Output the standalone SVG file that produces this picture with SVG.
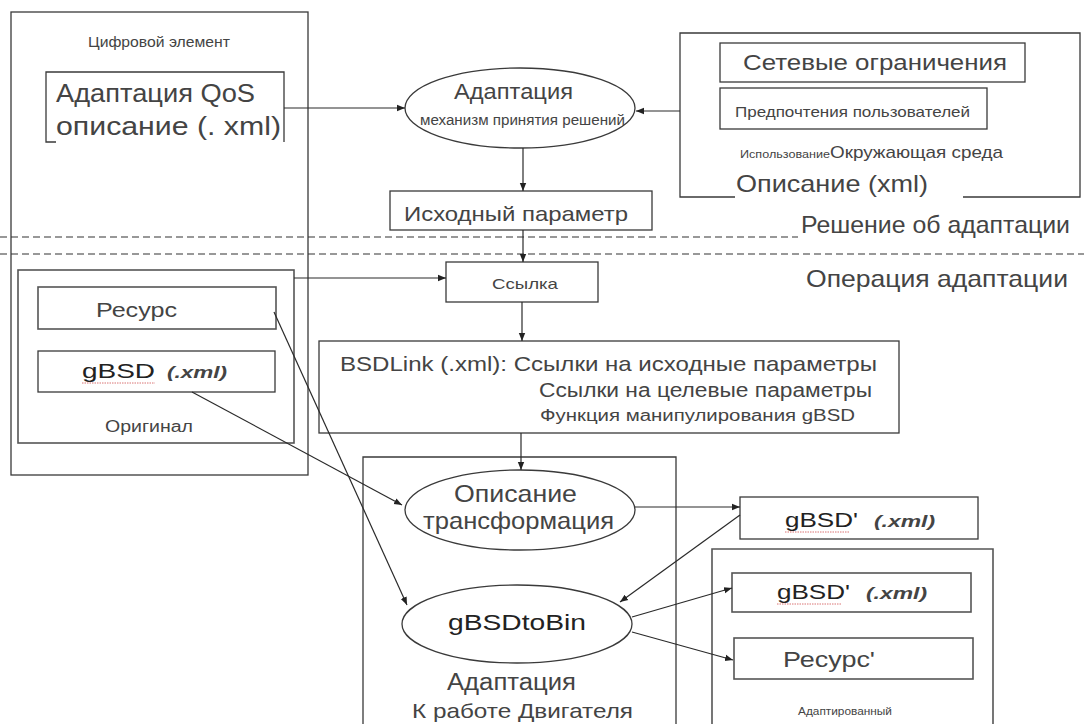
<svg xmlns="http://www.w3.org/2000/svg" width="1084" height="724" viewBox="0 0 1084 724">
<defs>
<style>
.box{fill:none;stroke:#3a3a3a;stroke-width:1.3}
.lbox{fill:none;stroke:#555;stroke-width:1.6}
.ln{fill:none;stroke:#2a2a2a;stroke-width:1.2}
.dash{fill:none;stroke:#333;stroke-width:1.2;stroke-dasharray:7,4}
text{font-family:"Liberation Sans",Arial,sans-serif;fill:#444}
.dk{fill:#222}
.sq{fill:none;stroke:#d05050;stroke-width:0.8;stroke-dasharray:1.5,1}
</style>
<marker id="ar" viewBox="0 0 10 10" refX="10" refY="5" markerWidth="8" markerHeight="8" orient="auto" markerUnits="userSpaceOnUse">
<path d="M0,1 L10,5 L0,9 z" fill="#222"/>
</marker>
</defs>
<rect width="1084" height="724" fill="#fff"/>

<g id="digital-item">
<rect class="box" x="11" y="12" width="297" height="463"/>
<text x="88" y="47" font-size="15" textLength="142" lengthAdjust="spacingAndGlyphs">Цифровой элемент</text>
</g>

<g id="qos">
<path class="box" d="M56,142 H46 V72 H284 V142"/>
<text x="56" y="102" font-size="25" textLength="199" lengthAdjust="spacingAndGlyphs">Адаптация QoS</text>
<text x="56" y="135" font-size="25" textLength="225" lengthAdjust="spacingAndGlyphs">описание (. xml)</text>
</g>

<g id="decision">
<ellipse class="box" cx="520" cy="108" rx="115" ry="40"/>
<text x="454" y="99" font-size="22" textLength="119" lengthAdjust="spacingAndGlyphs">Адаптация</text>
<text x="420" y="125" font-size="14" textLength="205" lengthAdjust="spacingAndGlyphs">механизм принятия решений</text>
</g>

<g id="environment">
<path class="box" d="M735,197 H680 V33 H1080 V197 H963"/>
<rect class="box" x="720" y="43" width="305" height="39"/>
<text x="743" y="70" font-size="22" textLength="264" lengthAdjust="spacingAndGlyphs">Сетевые ограничения</text>
<rect class="box" x="720" y="88" width="267" height="41"/>
<text x="735" y="117" font-size="15" textLength="235" lengthAdjust="spacingAndGlyphs">Предпочтения пользователей</text>
<text x="740" y="158" font-size="11" textLength="90" lengthAdjust="spacingAndGlyphs">Использование</text>
<text x="830" y="158" font-size="17" textLength="173" lengthAdjust="spacingAndGlyphs">Окружающая среда</text>
<text x="736" y="192" font-size="24" textLength="192" lengthAdjust="spacingAndGlyphs">Описание (xml)</text>
</g>

<g id="source-param">
<rect class="box" x="390" y="191" width="262" height="39"/>
<text x="404" y="221" font-size="21" textLength="224" lengthAdjust="spacingAndGlyphs">Исходный параметр</text>
</g>

<g id="layers">
<line class="dash" x1="0" y1="237" x2="798" y2="237"/>
<line class="dash" x1="0" y1="254" x2="1084" y2="254"/>
<text x="801" y="233" font-size="24" textLength="269" lengthAdjust="spacingAndGlyphs">Решение об адаптации</text>
<text x="806" y="287" font-size="24" textLength="262" lengthAdjust="spacingAndGlyphs">Операция адаптации</text>
</g>

<g id="original">
<rect class="lbox" x="18" y="270" width="276" height="173"/>
<rect class="lbox" x="38" y="287" width="238" height="42"/>
<text x="96" y="317" font-size="21" textLength="81" lengthAdjust="spacingAndGlyphs">Ресурс</text>
<rect class="box" x="38" y="351" width="237" height="41"/>
<text x="82" y="378" font-size="21" class="dk" textLength="73" lengthAdjust="spacingAndGlyphs">gBSD</text>
<text x="167" y="378" font-size="16" font-weight="bold" font-style="italic" textLength="60" lengthAdjust="spacingAndGlyphs">(.xml)</text>
<line class="sq" x1="82" y1="383" x2="155" y2="383"/>
<text x="105" y="432" font-size="16" textLength="88" lengthAdjust="spacingAndGlyphs">Оригинал</text>
</g>

<g id="link">
<rect class="box" x="446" y="262" width="152" height="40"/>
<text x="492" y="289" font-size="15" textLength="66" lengthAdjust="spacingAndGlyphs">Ссылка</text>
</g>

<g id="bsdlink">
<rect class="box" x="319" y="341" width="580" height="92"/>
<text x="340" y="371" font-size="21" textLength="537" lengthAdjust="spacingAndGlyphs">BSDLink (.xml): Ссылки на исходные параметры</text>
<text x="539" y="397" font-size="20" textLength="333" lengthAdjust="spacingAndGlyphs">Ссылки на целевые параметры</text>
<text x="540" y="421" font-size="16" textLength="315" lengthAdjust="spacingAndGlyphs">Функция манипулирования gBSD</text>
</g>

<g id="engine">
<path class="box" d="M363,724 V457 H676 V724"/>
<text x="447" y="690" font-size="23" textLength="129" lengthAdjust="spacingAndGlyphs">Адаптация</text>
<text x="412" y="718" font-size="21" textLength="221" lengthAdjust="spacingAndGlyphs">К работе Двигателя</text>
</g>

<g id="transform">
<ellipse class="box" cx="520" cy="510" rx="115" ry="40"/>
<text x="454" y="502" font-size="24" textLength="123" lengthAdjust="spacingAndGlyphs">Описание</text>
<text x="423" y="529" font-size="24" textLength="191" lengthAdjust="spacingAndGlyphs">трансформация</text>
</g>

<g id="gbsdtobin">
<ellipse class="box" cx="517" cy="624" rx="115" ry="39"/>
<text x="448" y="630" font-size="22" class="dk" textLength="138" lengthAdjust="spacingAndGlyphs">gBSDtoBin</text>
</g>

<g id="gbsd-prime">
<rect class="box" x="740" y="497" width="238" height="42"/>
<text x="785" y="527" font-size="21" class="dk" textLength="73" lengthAdjust="spacingAndGlyphs">gBSD'</text>
<text x="874" y="527" font-size="16" font-weight="bold" font-style="italic" textLength="61" lengthAdjust="spacingAndGlyphs">(.xml)</text>
<line class="sq" x1="785" y1="532" x2="850" y2="532"/>
</g>

<g id="adapted">
<path class="lbox" d="M712,724 V549 H993 V724"/>
<rect class="lbox" x="732" y="573" width="239" height="39"/>
<text x="777" y="599" font-size="21" class="dk" textLength="73" lengthAdjust="spacingAndGlyphs">gBSD'</text>
<text x="866" y="599" font-size="16" font-weight="bold" font-style="italic" textLength="61" lengthAdjust="spacingAndGlyphs">(.xml)</text>
<line class="sq" x1="777" y1="604" x2="842" y2="604"/>
<rect class="lbox" x="734" y="638" width="239" height="41"/>
<text x="783" y="667" font-size="22" textLength="92" lengthAdjust="spacingAndGlyphs">Ресурс'</text>
<text x="798" y="715" font-size="11" textLength="94" lengthAdjust="spacingAndGlyphs">Адаптированный</text>
</g>

<g id="connectors">
<line class="ln" x1="284" y1="108" x2="405" y2="108" marker-end="url(#ar)"/>
<line class="ln" x1="680" y1="111" x2="636" y2="111" marker-end="url(#ar)"/>
<line class="ln" x1="523" y1="148" x2="523" y2="191" marker-end="url(#ar)"/>
<line class="ln" x1="523" y1="230" x2="523" y2="262" marker-end="url(#ar)"/>
<line class="ln" x1="294" y1="278" x2="446" y2="278" marker-end="url(#ar)"/>
<line class="ln" x1="522" y1="302" x2="522" y2="341" marker-end="url(#ar)"/>
<line class="ln" x1="521" y1="433" x2="521" y2="470" marker-end="url(#ar)"/>
<line class="ln" x1="274" y1="312" x2="407" y2="605" marker-end="url(#ar)"/>
<line class="ln" x1="192" y1="392" x2="402" y2="505" marker-end="url(#ar)"/>
<line class="ln" x1="635" y1="507" x2="740" y2="507" marker-end="url(#ar)"/>
<line class="ln" x1="740" y1="515" x2="620" y2="602" marker-end="url(#ar)"/>
<line class="ln" x1="632" y1="617" x2="732" y2="588" marker-end="url(#ar)"/>
<line class="ln" x1="632" y1="632" x2="733" y2="660" marker-end="url(#ar)"/>
</g>
</svg>
